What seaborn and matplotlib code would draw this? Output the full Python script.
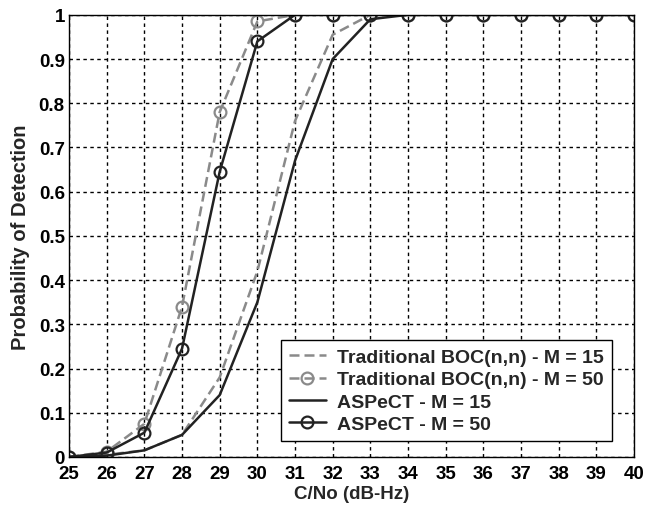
import matplotlib
matplotlib.use("Agg")
import matplotlib.pyplot as plt
import seaborn as sns
import pandas as pd

sns.set_theme(style="white")
plt.rcParams['font.family'] = ['Liberation Sans', 'DejaVu Sans']

cn0 = [25, 26, 27, 28, 29, 30, 31, 32, 33, 34, 35, 36, 37, 38, 39, 40]
trad_m15 = [0.0, 0.005, 0.015, 0.05, 0.18, 0.42, 0.76, 0.955, 1.0, 1.0, 1.0, 1.0, 1.0, 1.0, 1.0, 1.0]
trad_m50 = [0.0, 0.012, 0.075, 0.34, 0.78, 0.985, 1.0, 1.0, 1.0, 1.0, 1.0, 1.0, 1.0, 1.0, 1.0, 1.0]
aspect_m15 = [0.0, 0.003, 0.015, 0.05, 0.14, 0.35, 0.67, 0.90, 0.99, 1.0, 1.0, 1.0, 1.0, 1.0, 1.0, 1.0]
aspect_m50 = [0.0, 0.01, 0.055, 0.245, 0.645, 0.94, 1.0, 1.0, 1.0, 1.0, 1.0, 1.0, 1.0, 1.0, 1.0, 1.0]
labels = ["Traditional BOC(n,n) - M = 15", "Traditional BOC(n,n) - M = 50",
          "ASPeCT - M = 15", "ASPeCT - M = 50"]
xticks = list(range(25, 41))
yticks = [0, 0.1, 0.2, 0.3, 0.4, 0.5, 0.6, 0.7, 0.8, 0.9, 1]
yticklabels = ["0", "0.1", "0.2", "0.3", "0.4", "0.5", "0.6", "0.7", "0.8", "0.9", "1"]

fig = plt.figure(figsize=(6.45, 5.10), dpi=100)
ax = fig.add_axes([0.107, 0.102, 0.876, 0.867])

gray = "#8a8a8a"
black = "#222222"
series = [trad_m15, trad_m50, aspect_m15, aspect_m50]
styles = [
    dict(color=gray, linestyle=(0, (4, 2)), marker=None),
    dict(color=gray, linestyle=(0, (4, 2)), marker="o"),
    dict(color=black, linestyle="-", marker=None),
    dict(color=black, linestyle="-", marker="o"),
]
for ys, lab, st in zip(series, labels, styles):
    df = pd.DataFrame({"x": cn0, "y": ys})
    kw = dict(color=st["color"], linestyle=st["linestyle"], linewidth=1.8, label=lab)
    if st["marker"]:
        kw.update(marker="o", markersize=8.5, markerfacecolor="none",
                  markeredgecolor=st["color"], markeredgewidth=1.6)
    sns.lineplot(data=df, x="x", y="y", ax=ax, **kw)

ax.set_xlim(25, 40)
ax.set_ylim(0, 1)
ax.set_xticks(xticks)
ax.set_xticklabels([str(t) for t in xticks])
ax.set_yticks(yticks)
ax.set_yticklabels(yticklabels)
ax.grid(True, color="black", linestyle=(0, (2.5, 2.5)), linewidth=1.0)
ax.tick_params(direction="in", length=5, width=1, colors="black",
               labelsize=13.5, top=False, right=False)
ax.tick_params(axis="x", pad=6)
ax.tick_params(axis="y", pad=3)
for lab in ax.get_xticklabels() + ax.get_yticklabels():
    lab.set_fontweight("bold")
for sp in ax.spines.values():
    sp.set_color("black")
    sp.set_linewidth(1.0)
    sp.set_visible(True)

ax.set_xlabel("C/No (dB-Hz)", fontsize=13.5, fontweight="bold", labelpad=2)
ax.set_ylabel("Probability of Detection", fontsize=14.5, fontweight="bold", labelpad=6)

leg = ax.legend(loc="lower right", bbox_to_anchor=(0.961, 0.036), borderaxespad=0,
                fancybox=False, frameon=True, edgecolor="black", framealpha=1,
                prop=dict(size=14, weight="bold"), handlelength=1.9,
                labelspacing=0.25, borderpad=0.4, handletextpad=0.6)
leg.get_frame().set_linewidth(1.0)

fig.savefig("out.png", dpi=100)
